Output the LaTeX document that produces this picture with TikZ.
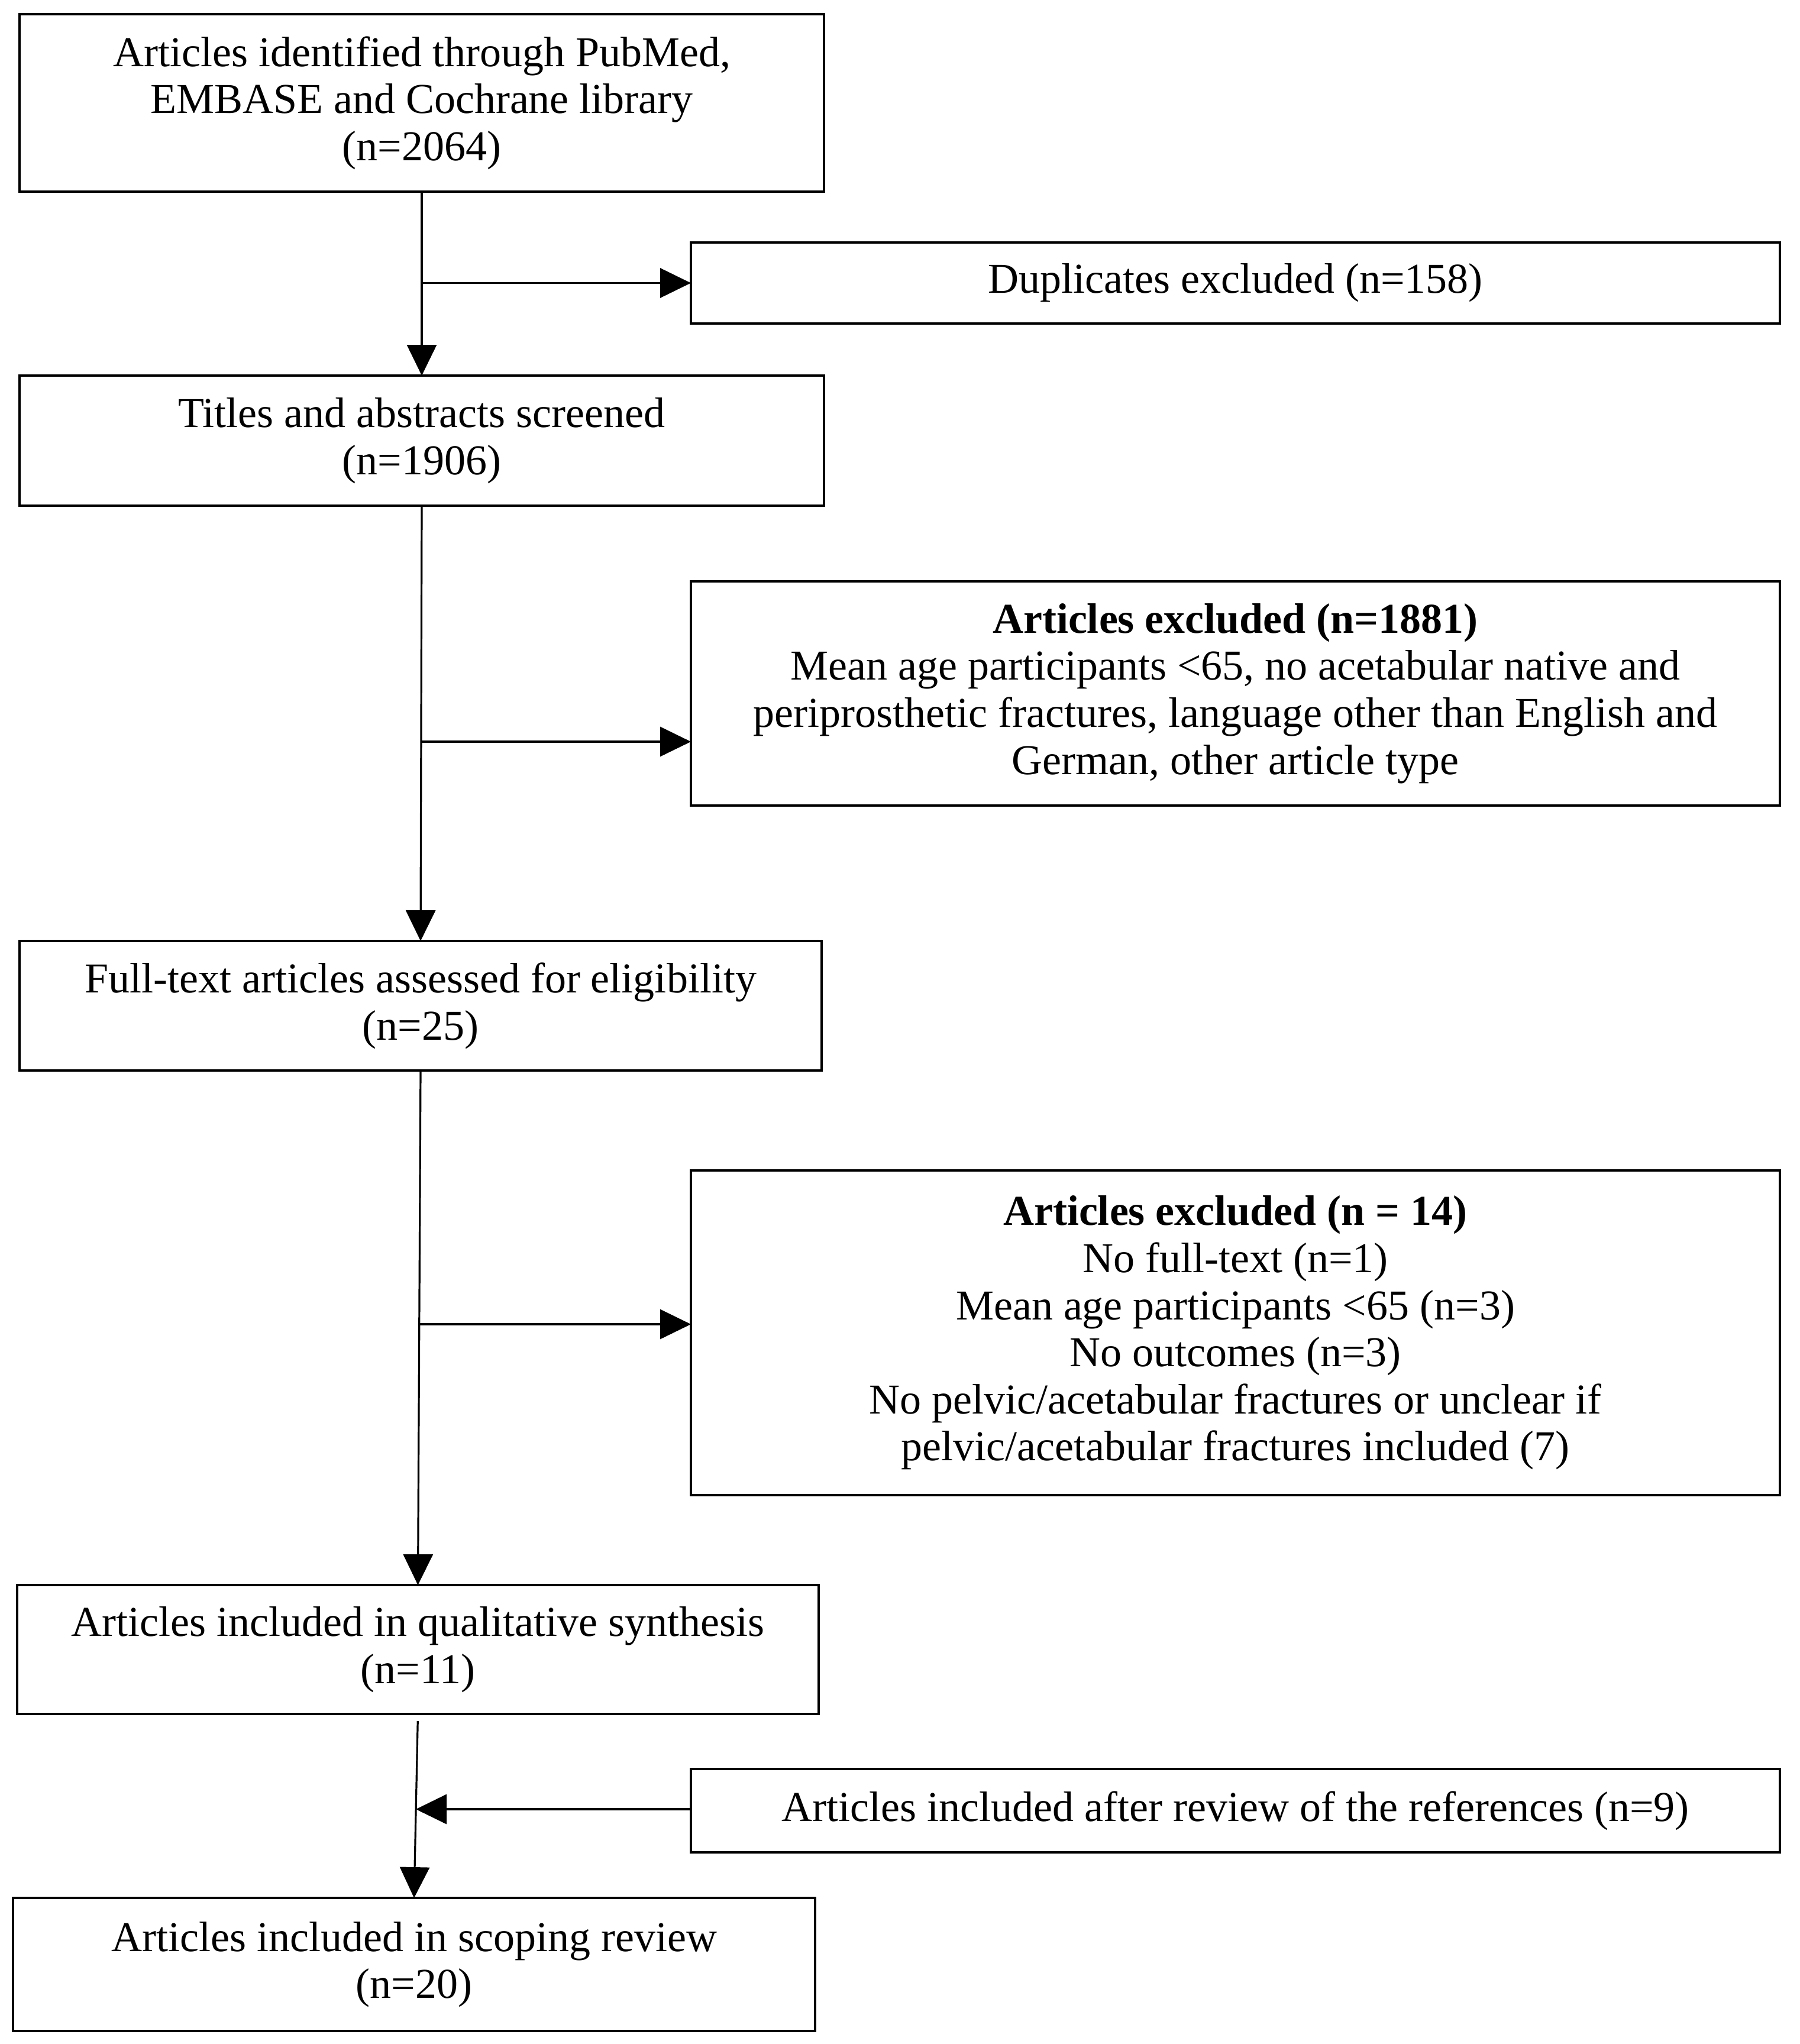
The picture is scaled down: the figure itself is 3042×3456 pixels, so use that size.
\documentclass[tikz,border=0pt]{standalone}
\usepackage{fontspec}
\setmainfont{Liberation Serif}
\usetikzlibrary{arrows.meta}
\tikzset{
  box/.style={draw=black, line width=1pt, inner sep=0pt, outer sep=0pt, align=center,
    font=\fontsize{18}{19.9}\selectfont},
  conn/.style={line width=0.8pt, draw=black},
  arr/.style={conn, -{Triangle[length=13pt,width=12.5pt]}},
}
\begin{document}
\begin{tikzpicture}[x=0.25pt,y=-0.25pt]
\useasboundingbox (0,0) rectangle (3042,3456);
\node[box, minimum width=340pt, minimum height=75pt] (A) at (713,174)
  {Articles identified through PubMed,\\EMBASE and Cochrane library\\(n=2064)};
\node[box, minimum width=460.25pt, minimum height=34.25pt] (Dup) at (2088.5,478.5)
  {Duplicates excluded (n=158)};
\node[box, minimum width=340pt, minimum height=55pt] (B) at (713,745)
  {Titles and abstracts screened\\(n=1906)};
\node[box, minimum width=460.25pt, minimum height=94.75pt] (Ex1) at (2088.5,1172.5)
  {\textbf{Articles excluded (n=1881)}\\Mean age participants <65, no acetabular native and\\periprosthetic fractures, language other than English and\\German, other article type};
\node[box, minimum width=339pt, minimum height=54.75pt] (C) at (711,1700.5)
  {Full-text articles assessed for eligibility\\(n=25)};
\node[box, minimum width=460.25pt, minimum height=137.25pt] (Ex2) at (2088.5,2253.5)
  {\textbf{Articles excluded (n = 14)}\\No full-text (n=1)\\Mean age participants <65 (n=3)\\No outcomes (n=3)\\No pelvic/acetabular fractures or unclear if\\pelvic/acetabular fractures included (7)};
\node[box, minimum width=338.75pt, minimum height=54.5pt] (D) at (706.5,2789)
  {Articles included in qualitative synthesis\\(n=11)};
\node[box, minimum width=460.25pt, minimum height=35.25pt] (Ref) at (2088.5,3061.5)
  {Articles included after review of the references (n=9)};
\node[box, minimum width=339pt, minimum height=56.25pt] (E) at (700,3321.5)
  {Articles included in scoping review\\(n=20)};
% main flow
\draw[arr] (A.south) -- (B.north);
\draw[arr] (B.south) -- (C.north);
\draw[arr] (C.south) -- (D.north);
\draw[arr, shorten <=3pt] (D.south) -- (E.north);
% branches
\coordinate (j1) at (A.south |- Dup.west);
\draw[arr] (j1) -- (Dup.west);
\coordinate (j2) at (712,1254);
\draw[arr] (j2) -- (j2 -| Ex1.west);
\coordinate (j3) at (709,2239);
\draw[arr] (j3) -- (j3 -| Ex2.west);
\coordinate (j4) at (703,3059);
\draw[arr] (j4 -| Ref.west) -- (j4);
\end{tikzpicture}
\end{document}
